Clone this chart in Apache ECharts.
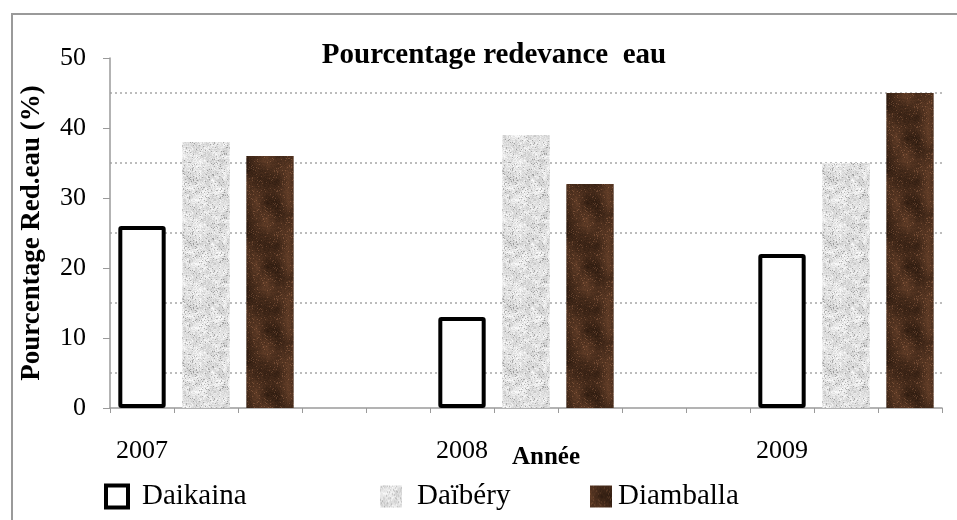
<!DOCTYPE html>
<html>
<head>
<meta charset="UTF-8">
<title>Pourcentage redevance eau</title>
<script src="https://cdn.jsdelivr.net/npm/echarts@6/dist/echarts.min.js"></script>
<style>
  html, body { margin: 0; padding: 0; background: #fff; }
  #chart { width: 957px; height: 520px; }
</style>
</head>
<body>
<div id="chart"></div>
<script>
// donnees
var years = ['2007', '2008', '2009'];
var seriesNames = ['Daikaina', 'Daïbéry', 'Diamballa'];
var daikaina = [26, 13, 22];
var daibery = [38, 39, 35];
var diamballa = [36, 32, 45];
var yTicks = [0, 10, 20, 30, 40, 50];

// l'original (Excel) a 13 categories : 3 barres par annee + 2 cases vides entre les annees
var slotsPerYear = 5;
var nbSlots = years.length * slotsPerYear - 2;
var categories = [];
for (var i = 0; i < nbSlots; i++) {
  categories.push(i % slotsPerYear == 0 ? years[i / slotsPerYear] : '');
}
function spread(values, offset) {
  var out = [];
  for (var i = 0; i < nbSlots; i++) out.push(null);
  for (var j = 0; j < values.length; j++) out[j * slotsPerYear + offset] = values[j];
  return out;
}

// textures (bruit deterministe) pour imiter les remplissages d'Excel
function seeded(seed) {
  return function () {
    seed = (seed * 1103515245 + 12345) & 0x7fffffff;
    return seed / 0x7fffffff;
  };
}
function texture(size, seed, coarse, pick) {
  var c = document.createElement('canvas');
  c.width = size; c.height = size;
  var ctx = c.getContext('2d');
  var img = ctx.createImageData(size, size);
  var rnd = seeded(seed);
  // bruit basse frequence (grille coarse x coarse, periodique)
  var g = [];
  for (var k = 0; k < coarse * coarse; k++) g.push(rnd());
  function low(x, y) {
    var fx = x / size * coarse, fy = y / size * coarse;
    var x0 = Math.floor(fx), y0 = Math.floor(fy);
    var tx = fx - x0, ty = fy - y0;
    var x1 = (x0 + 1) % coarse, y1 = (y0 + 1) % coarse;
    var a = g[y0 * coarse + x0], b = g[y0 * coarse + x1];
    var cc = g[y1 * coarse + x0], d = g[y1 * coarse + x1];
    return (a * (1 - tx) + b * tx) * (1 - ty) + (cc * (1 - tx) + d * tx) * ty;
  }
  for (var y = 0; y < size; y++) {
    for (var x = 0; x < size; x++) {
      var rgb = pick(low(x, y), rnd());
      var p = (y * size + x) * 4;
      img.data[p] = rgb[0]; img.data[p + 1] = rgb[1]; img.data[p + 2] = rgb[2]; img.data[p + 3] = 255;
    }
  }
  ctx.putImageData(img, 0, 0);
  return c;
}
var grayTex = texture(64, 7, 16, function (l, r) {
  var v = 224 + (r - 0.5) * 36 + (l - 0.5) * 34;
  if (r < 0.07) v -= 40;
  v = Math.max(145, Math.min(250, v));
  return [v, v, v];
});
var brownTex = texture(64, 13, 6, function (l, r) {
  var t = l * 0.75 + r * 0.25;
  var streak = r > 0.93 ? 30 : 0;
  return [Math.round(38 + t * 70 + streak), Math.round(22 + t * 46 + streak * 0.75), Math.round(12 + t * 32 + streak * 0.6)];
});

var serif = '"Liberation Serif", "DejaVu Serif", serif';
function legendText(gap) {
  return { fontFamily: serif, fontSize: 29, color: '#000', padding: [0, 0, 0, gap] };
}

var chart = echarts.init(document.getElementById('chart'));
chart.setOption({
  animation: false,
  title: {
    text: 'Pourcentage redevance  eau',
    left: 489, top: 36, textAlign: 'center',
    textStyle: { fontFamily: serif, fontWeight: 'bold', fontSize: 29, color: '#000' }
  },
  legend: [
    { data: [seriesNames[0]], left: 104, top: 482, padding: 0, icon: 'rect', itemWidth: 22, itemHeight: 22,
      itemStyle: { borderWidth: 4, borderColor: '#000', color: '#fff' }, textStyle: legendText(9) },
    { data: [seriesNames[1]], left: 380, top: 482, padding: 0, icon: 'rect', itemWidth: 22, itemHeight: 22,
      textStyle: legendText(10) },
    { data: [seriesNames[2]], left: 590, top: 482, padding: 0, icon: 'rect', itemWidth: 22, itemHeight: 22,
      textStyle: legendText(1) }
  ],
  grid: { left: 110, right: 15, top: 58, bottom: 112 },
  graphic: [
    { type: 'polyline', shape: { points: [[12, 520], [12, 14], [957, 14]] },
      style: { stroke: '#9a9a9a', lineWidth: 2, fill: null } },
    { type: 'text', left: 512, top: 445,
      style: { text: 'Année', font: 'bold 25px ' + serif, fill: '#000' } }
  ],
  xAxis: {
    type: 'category',
    data: categories,
    axisLine: { lineStyle: { color: '#9a9a9a', width: 1.5 } },
    axisTick: { show: true, interval: 0, length: 5, lineStyle: { color: '#9a9a9a' } },
    axisLabel: { interval: 0, margin: 30, fontFamily: serif, fontSize: 26, color: '#000' }
  },
  yAxis: {
    type: 'value',
    min: yTicks[0], max: yTicks[yTicks.length - 1], interval: 10,
    name: 'Pourcentage Red.eau (%)',
    nameLocation: 'middle', nameGap: 64,
    nameTextStyle: { fontFamily: serif, fontWeight: 'bold', fontSize: 27, color: '#000' },
    axisLine: { show: true, lineStyle: { color: '#9a9a9a', width: 1.5 } },
    axisTick: { show: true, length: 7, lineStyle: { color: '#9a9a9a' } },
    axisLabel: { margin: 24, fontFamily: serif, fontSize: 26, color: '#000' },
    splitLine: { show: false },
    minorTick: { show: false, splitNumber: 2 },
    minorSplitLine: { show: true, lineStyle: { color: '#a6a6a6', type: [2, 3], width: 1.5 } }
  },
  series: [
    { name: seriesNames[0], type: 'bar', stack: 'all', barCategoryGap: '26%',
      data: spread(daikaina, 0),
      itemStyle: { color: '#fff', borderColor: '#000', borderWidth: 4, borderRadius: 1 } },
    { name: seriesNames[1], type: 'bar', stack: 'all',
      data: spread(daibery, 1),
      itemStyle: { color: { image: grayTex, repeat: 'repeat' } } },
    { name: seriesNames[2], type: 'bar', stack: 'all',
      data: spread(diamballa, 2),
      itemStyle: { color: { image: brownTex, repeat: 'repeat' } } }
  ]
});
</script>
</body>
</html>
